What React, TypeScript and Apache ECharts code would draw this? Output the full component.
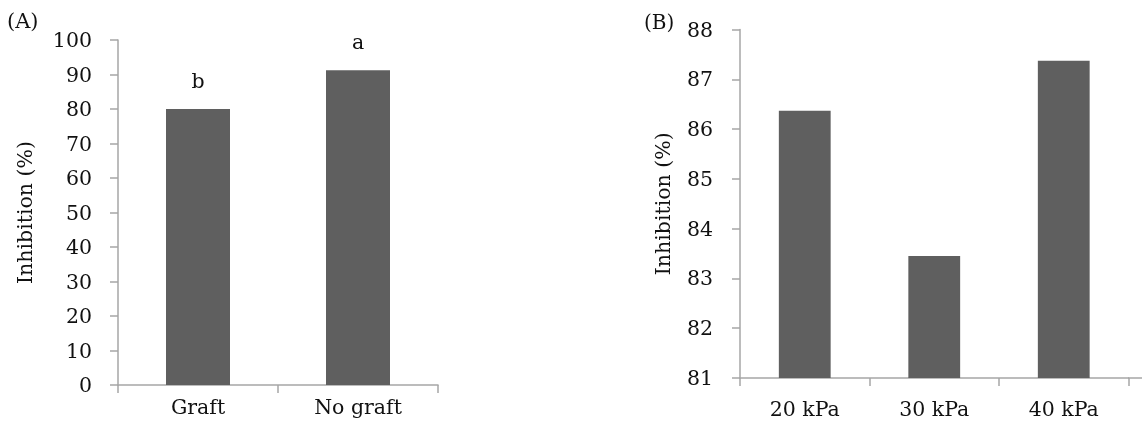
import React, { useEffect, useRef } from "react";
import * as echarts from "echarts";

const panelACategories = ["Graft", "No graft"];
const panelAValues = [80, 91.2];
const panelALetters = ["b", "a"];
const panelATicks = { min: 0, max: 100, interval: 10 };

const panelBCategories = ["20 kPa", "30 kPa", "40 kPa"];
const panelBValues = [86.37, 83.45, 87.37];
const panelBTicks = { min: 81, max: 88, interval: 1 };

const yTitle = "Inhibition (%)";
const FONT = "DejaVu Serif";
const AXIS_COLOR = "#a6a6a6";
const BAR_COLOR = "#5f5f5f";

export default function App() {
  const ref = useRef<HTMLDivElement>(null);
  useEffect(() => {
    if (!ref.current) return;
    const chart = echarts.init(ref.current, null, { renderer: "svg" });
    const axisLine = { show: true, lineStyle: { color: AXIS_COLOR, width: 1.5 } };
    const tick = { show: true, length: 8, inside: false, lineStyle: { color: AXIS_COLOR, width: 1.5 } };
    const textStyle = { fontFamily: FONT, fontSize: 20.5, color: "#111" };
    chart.setOption({
      animation: false,
      grid: [
        { left: 118, top: 40, width: 320, height: 345 },
        { left: 740, top: 29.5, width: 388.5, height: 348.5 },
      ],
      xAxis: [
        {
          type: "category", gridIndex: 0, data: panelACategories,
          axisLine, axisTick: tick,
          axisLabel: { ...textStyle, margin: 11 },
        },
        {
          type: "category", gridIndex: 1, data: panelBCategories,
          axisLine, axisTick: tick,
          axisLabel: { ...textStyle, margin: 20 },
        },
      ],
      yAxis: [
        {
          type: "value", gridIndex: 0, ...panelATicks,
          axisLine, axisTick: tick, splitLine: { show: false },
          axisLabel: { ...textStyle, margin: 26 },
          name: yTitle, nameLocation: "middle", nameGap: 83,
          nameTextStyle: { ...textStyle },
        },
        {
          type: "value", gridIndex: 1, ...panelBTicks,
          axisLine, axisTick: tick, splitLine: { show: false },
          axisLabel: { ...textStyle, margin: 27 },
          name: yTitle, nameLocation: "middle", nameGap: 67,
          nameTextStyle: { ...textStyle },
        },
      ],
      series: [
        {
          type: "bar", xAxisIndex: 0, yAxisIndex: 0, barWidth: "40%",
          data: panelAValues.map((v, i) => ({
            value: v,
            label: { show: true, position: "top", distance: 18, formatter: panelALetters[i], ...textStyle },
          })),
          itemStyle: { color: BAR_COLOR },
        },
        {
          type: "bar", xAxisIndex: 1, yAxisIndex: 1, barWidth: "40%",
          data: panelBValues,
          itemStyle: { color: BAR_COLOR },
        },
      ],
      graphic: [
        { type: "text", left: 7, top: 10, style: { text: "(A)", font: `21px "${FONT}"`, fill: "#111" } },
        { type: "text", left: 644, top: 12, style: { text: "(B)", font: `20px "${FONT}"`, fill: "#111" } },
        { type: "line", shape: { x1: 1128, y1: 378, x2: 1142, y2: 378 }, style: { stroke: AXIS_COLOR, lineWidth: 1.5 } },
      ],
    });
    return () => chart.dispose();
  }, []);
  return <div ref={ref} style={{ position: "fixed", left: 0, top: 0, width: 1142, height: 432 }} />;
}
